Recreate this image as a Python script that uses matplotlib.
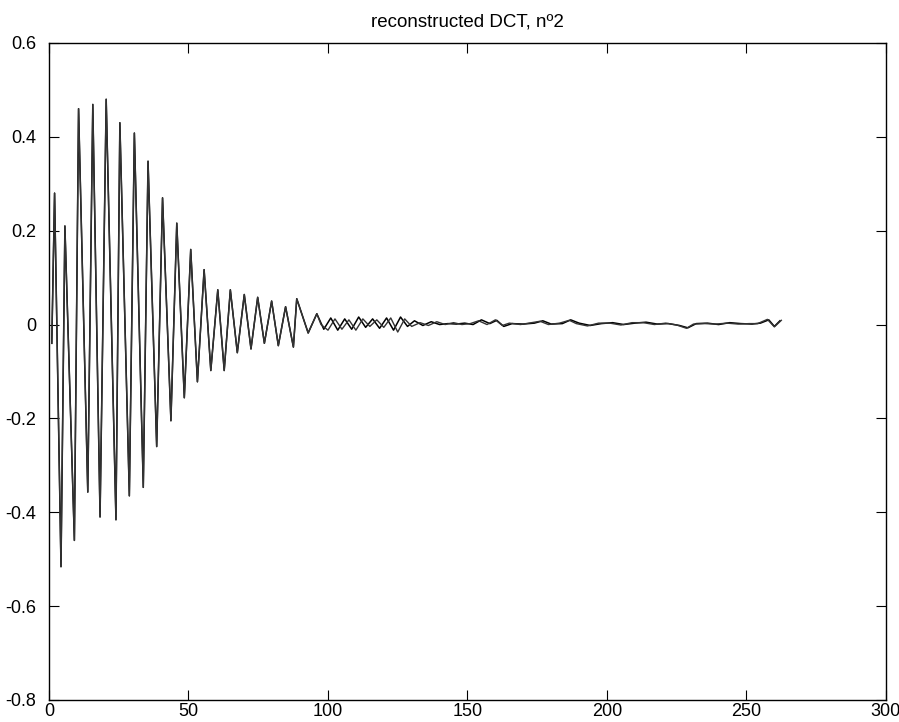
import matplotlib.pyplot as plt

# turning points (sample index, amplitude); both curves share the head
head_x = [1, 2, 4.3, 5.7, 9.1, 10.6, 13.9, 15.7, 18.3, 20.5, 24.0, 25.4, 28.8, 30.6,
          33.8, 35.5, 38.6, 40.7, 43.7, 45.8, 48.5, 50.8, 53.2, 55.6, 58.0, 60.5,
          62.8, 65.0, 67.5, 70.0, 72.4, 74.8, 77.2, 79.8, 82.2, 84.8, 87.6, 88.8,
          92.9, 96.0]
head_y = [-0.04, 0.28, -0.516, 0.21, -0.46, 0.46, -0.357, 0.469, -0.41, 0.48, -0.416,
          0.43, -0.365, 0.408, -0.347, 0.348, -0.26, 0.27, -0.205, 0.216, -0.156, 0.16,
          -0.122, 0.117, -0.098, 0.074, -0.098, 0.074, -0.06, 0.064, -0.052, 0.058,
          -0.04, 0.05, -0.045, 0.038, -0.048, 0.055, -0.018, 0.023]

orig_x = [98.5, 101, 103.5, 106, 108.5, 111, 113.5, 116, 118.5, 121, 123.5, 126,
          128.5, 131, 134, 137, 140, 143, 146, 149, 152, 155, 158, 160.5, 163, 166,
          170, 174, 177, 180, 184, 187, 190, 194, 198, 202, 206, 210, 214, 218, 222,
          226, 229, 232, 236, 240, 244, 248, 252, 255, 258, 260, 262]
orig_y = [-0.01, 0.014, -0.012, 0.012, -0.01, 0.016, -0.006, 0.012, -0.008, 0.014,
          -0.012, 0.016, -0.004, 0.008, -0.002, 0.006, 0.0, 0.002, 0.001, 0.003, 0.0,
          0.01, 0.002, 0.009, -0.004, 0.002, 0.001, 0.003, 0.008, 0.001, 0.002, 0.01,
          0.003, -0.002, 0.002, 0.004, 0.0, 0.003, 0.005, 0.001, 0.002, -0.002, -0.007,
          0.002, 0.003, 0.0, 0.004, 0.002, 0.001, 0.003, 0.01, -0.004, 0.008]

rec_x = [97.5, 100, 102.5, 105, 107.5, 110, 112.5, 115, 117.5, 120, 122.5, 125,
         127.5, 130, 133, 136, 139, 142, 145, 148, 151, 154, 157, 160, 162.5, 165,
         169, 173, 176, 179, 183, 186.5, 189, 193, 197, 201, 205, 209, 213, 217, 221,
         225, 228.5, 231, 235, 239, 243, 247, 251, 254, 257.5, 260, 262.5]
rec_y = [0.0, -0.012, 0.012, -0.01, 0.01, -0.012, 0.012, -0.004, 0.01, -0.006, 0.014,
         -0.016, 0.012, -0.004, 0.004, -0.002, 0.006, 0.0, 0.004, 0.0, 0.002, 0.008,
         0.0, 0.01, -0.002, 0.003, 0.0, 0.004, 0.007, 0.0, 0.003, 0.009, 0.002, -0.003,
         0.003, 0.003, -0.001, 0.004, 0.004, 0.0, 0.003, -0.001, -0.008, 0.001, 0.002,
         0.001, 0.003, 0.001, 0.002, 0.002, 0.011, -0.005, 0.009]

x_ticks = [0, 50, 100, 150, 200, 250, 300]
y_ticks = [-0.8, -0.6, -0.4, -0.2, 0, 0.2, 0.4, 0.6]
y_labels = ['-0.8', '-0.6', '-0.4', '-0.2', '0', '0.2', '0.4', '0.6']

plt.rcParams['font.family'] = ['Liberation Sans', 'DejaVu Sans']

fig = plt.figure(figsize=(8.99, 7.22), dpi=100)
ax = fig.add_axes([0.0545, 0.0305, 0.931, 0.91])

ax.plot(head_x + orig_x, head_y + orig_y, c='k', lw=1.1)
ax.plot(head_x + rec_x, head_y + rec_y, c='#333333', lw=1.0)

ax.set_xlim(0, 300)
ax.set_ylim(-0.8, 0.6)
ax.set_xticks(x_ticks)
ax.set_yticks(y_ticks)
ax.set_yticklabels(y_labels)
ax.tick_params(direction='in', length=7, top=True, right=True, labelsize=13)
ax.tick_params(axis='y', pad=9)
ax.tick_params(axis='x', pad=2)
for s in ax.spines.values():
    s.set_linewidth(1.0)

ax.set_title('reconstructed DCT, nº2', fontsize=13.5, pad=12)

plt.savefig('out.png', dpi=100)
